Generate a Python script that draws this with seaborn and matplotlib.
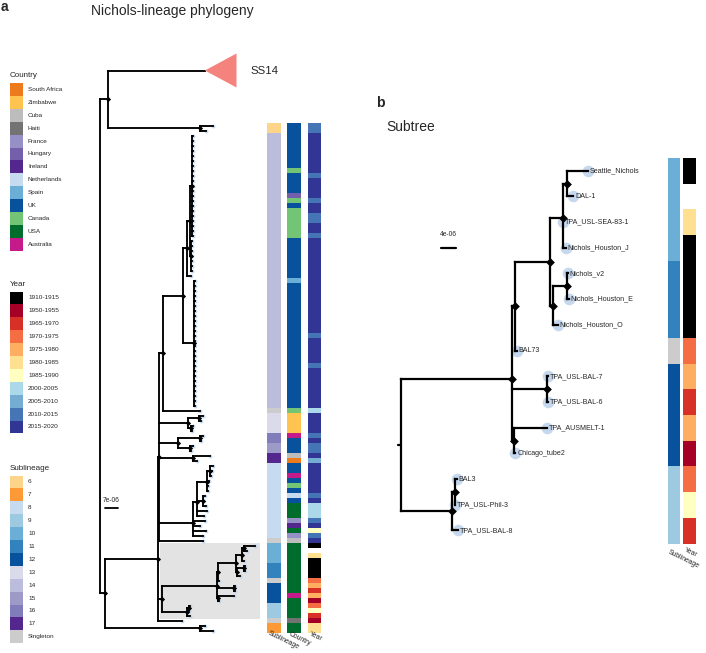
import numpy as np
import pandas as pd
import seaborn as sns
import matplotlib
matplotlib.use('Agg')
import matplotlib.pyplot as plt
from matplotlib.colors import ListedColormap
from matplotlib.collections import LineCollection
from matplotlib.patches import Polygon, Rectangle

sns.set_theme(style='white')
plt.rcParams['font.family'] = ['Liberation Sans', 'DejaVu Sans']

W, H = 706, 653

# colours of the three annotation strips
country_colors = {
    'South Africa': '#ee7a1e', 'Zimbabwe': '#fec44f', 'Cuba': '#bdbdbd', 'Haiti': '#737373',
    'France': '#9590c6', 'Hungary': '#7460aa', 'Ireland': '#54278f', 'Netherlands': '#c6dbef',
    'Spain': '#6baed6', 'UK': '#08519c', 'Canada': '#74c476', 'USA': '#006d2c', 'Australia': '#c51b8a',
}
year_colors = {
    '1910-1915': '#000000', '1950-1955': '#a50026', '1965-1970': '#d73027', '1970-1975': '#f46d43',
    '1975-1980': '#fdae61', '1980-1985': '#fee090', '1985-1990': '#ffffbf', '2000-2005': '#abd9e9',
    '2005-2010': '#74add1', '2010-2015': '#4575b4', '2015-2020': '#313695',
}
sublineage_colors = {
    '6': '#fdd58a', '7': '#fd9a35', '8': '#c6dbef', '9': '#9ecae1', '10': '#6baed6', '11': '#3182bd',
    '12': '#08519c', '13': '#dadaeb', '14': '#bcbddc', '15': '#9e9ac8', '16': '#807dba', '17': '#54278f',
    'Singleton': '#cccccc',
}

# subtree (panel b), branch lengths in 1e-06
sub_newick = ("((((((Seattle_Nichols:5.6,DAL-1:1.6):1.1,TPA_USL-SEA-83-1:0.1,Nichols_Houston_J:0.8):3.5,"
              "((Nichols_v2:0.2,Nichols_Houston_E:0.4):3.8,Nichols_Houston_O:1.3):0.8):9.3,BAL73:0.5):0.8,"
              "(TPA_USL-BAL-7:0.3,TPA_USL-BAL-6:0.3):9.3,(TPA_AUSMELT-1:8.9,Chicago_tube2:0.5):0.4):29.6,"
              "((BAL3:0.5,TPA_USL-Phil-3:0.1):0.8,TPA_USL-BAL-8:1.6):13.6)")
sub_sublineage = ['10', '10', '10', '10', '11', '11', '11', 'Singleton', '12', '12', '12', '12', '9', '9', '9']
sub_year = ['1910-1915', None, '1980-1985', '1910-1915', '1910-1915', '1910-1915', '1910-1915',
            '1970-1975', '1975-1980', '1965-1970', '1975-1980', '1950-1955', '1970-1975', '1985-1990',
            '1965-1970']


def star(n, length=0.5):
    # clade of n (near) identical isolates
    return '(' + ','.join([f't:{length}'] * n) + ')'


# full Nichols-lineage tree (panel a)
K4 = f"({star(21)}:1.1,{star(7)}:0.5)"
K2 = f"({K4}:1.6,t:2.2)"
K1 = f"({K2}:2.2,{star(26)}:5.9)"
K = f"({K1}:10.8,t:19.9)"
N13 = "((t:2.2,t:1.1):5.9,(t:1.1,t:0.5):1.6)"
N16 = "((t:1.6,t:0.5):11.8,(t:1.6,t:0.5):6.5)"
N17 = "(t:9.2,t:2.2)"
C8 = "((((t:1.6,t:1.1,t:0.5):1.6,t:1.1,t:0.5,t:0.5):5.4,(t:1.1,t:0.5,t:1.6):3.2,t:5.4,t:3.8):2.2,t:6.5,t:3.8,t:7.0,t:5.4)"
E1 = f"({K}:2.2,{N13}:15.6,{N16}:10.2,{N17}:18.3,{C8}:18.3,t:23.7)"
E = f"({E1}:0.5,{sub_newick}Subtree:2.2,t:12.9)"
D = f"({E}:28.5,(t:2.7,t:7.0):51.2)"
A = "(SS14:52.2,(t:7.0,t:3.2):49.5)"
tree_newick = f"({A}:4.3,{D}:2.7)"

sublineage_runs_top = [('6', 2), ('14', 55), ('Singleton', 1), ('13', 4), ('16', 2), ('15', 2), ('17', 2),
                       ('8', 15), ('Singleton', 1)]
sublineage_runs_bottom = [('Singleton', 1), ('7', 2)]
country_runs = [('UK', 9), ('Canada', 1), ('UK', 4), ('Hungary', 1), ('Canada', 1), ('UK', 1), ('Canada', 6),
                ('UK', 8), ('Spain', 1), ('UK', 25), ('Canada', 1), ('Zimbabwe', 4), ('Australia', 1), ('UK', 3),
                ('Cuba', 1), ('South Africa', 1), ('UK', 2), ('Australia', 1), ('UK', 1), ('Canada', 1), ('UK', 1),
                ('Netherlands', 1), ('UK', 1), ('USA', 3), ('France', 1), ('Ireland', 1), ('USA', 1), ('France', 1),
                ('Cuba', 1), ('USA', 10), ('Australia', 1), ('USA', 4), ('Haiti', 1), ('USA', 2)]
year_runs_top = [('2010-2015', 2), ('2015-2020', 8), ('2010-2015', 1), ('2015-2020', 4), ('2010-2015', 1),
                 ('2015-2020', 2), ('2010-2015', 2), ('2015-2020', 2), ('2010-2015', 1), ('2015-2020', 19),
                 ('2010-2015', 1), ('2015-2020', 5), ('2010-2015', 1), ('2015-2020', 8), ('2000-2005', 1),
                 ('2015-2020', 4), ('2010-2015', 1), ('2015-2020', 1), ('2010-2015', 2), ('2015-2020', 1),
                 ('2005-2010', 1), ('2015-2020', 6), ('2010-2015', 1), ('2015-2020', 1), ('2000-2005', 3),
                 ('2010-2015', 1), ('2015-2020', 1), ('1985-1990', 1), ('2010-2015', 1), ('2015-2020', 1)]
year_runs_bottom = [('1950-1955', 1), ('1980-1985', 2)]


def expand(runs):
    return [lab for lab, n in runs for _ in range(n)]


sublineage_a = expand(sublineage_runs_top) + sub_sublineage + expand(sublineage_runs_bottom)
country_a = expand(country_runs)
year_a = expand(year_runs_top) + sub_year + expand(year_runs_bottom)


def parse_newick(s):
    pos = 0

    def node():
        nonlocal pos
        n = {'children': [], 'name': '', 'length': 0.0}
        if s[pos] == '(':
            pos += 1
            while True:
                n['children'].append(node())
                if s[pos] == ',':
                    pos += 1
                    continue
                pos += 1
                break
        start = pos
        while pos < len(s) and s[pos] not in ':,();':
            pos += 1
        n['name'] = s[start:pos]
        if pos < len(s) and s[pos] == ':':
            pos += 1
            start = pos
            while pos < len(s) and s[pos] not in ',();':
                pos += 1
            n['length'] = float(s[start:pos])
        return n
    return node()


def place(n, x0, counter, fixed):
    n['x'] = x0 + n['length']
    if n['children']:
        for c in n['children']:
            place(c, n['x'], counter, fixed)
        n['y'] = np.mean([c['y'] for c in n['children']])
    elif n['name'] in fixed:
        n['y'] = fixed[n['name']]
    else:
        n['y'] = counter[0]
        counter[0] += 1


def find(n, name):
    if n['name'] == name:
        return n
    for c in n['children']:
        r = find(c, name)
        if r is not None:
            return r
    return None


def leaves(n):
    if not n['children']:
        return [n]
    return [l for c in n['children'] for l in leaves(c)]


def draw_tree(ax, root, lw, node_s, tip_s, skip=()):
    segs, nodes = [], []

    def walk(n, is_root):
        if n['children']:
            ys = [c['y'] for c in n['children']]
            segs.append([(n['x'], min(ys)), (n['x'], max(ys))])
            for c in n['children']:
                segs.append([(n['x'], c['y']), (c['x'], c['y'])])
                walk(c, False)
            if not is_root:
                nodes.append((n['x'], n['y']))
    walk(root, True)
    ax.add_collection(LineCollection(segs, colors='black', linewidths=lw, capstyle='projecting', zorder=2))
    tips = [l for l in leaves(root) if l['name'] not in skip]
    ax.scatter([t['x'] for t in tips], [t['y'] for t in tips], s=tip_s, color='#bcd2ea', alpha=0.85,
               linewidths=0, zorder=1)
    nx, ny = zip(*nodes)
    ax.scatter(nx, ny, s=node_s, marker='D', color='black', linewidths=0, zorder=3)


def px_axes(fig, x0, y0, x1, y1):
    return fig.add_axes([x0 / W, 1 - y1 / H, (x1 - x0) / W, (y1 - y0) / H])


def strip(ax, labels, colors):
    order = list(colors)
    codes = [order.index(l) if l is not None else np.nan for l in labels]
    sns.heatmap(pd.DataFrame({'v': codes}), ax=ax, cmap=ListedColormap([colors[o] for o in order]),
                vmin=-0.5, vmax=len(order) - 0.5, cbar=False, xticklabels=False, yticklabels=False)
    ax.set_xlabel('')
    ax.set_ylabel('')


def col_label(x, y, text):
    fig.text(x / W, 1 - y / H, text, fontsize=4.9, rotation=-26, rotation_mode='anchor', ha='left', va='top')


fig = plt.figure(figsize=(W / 100, H / 100), dpi=100)

# ---------- panel a ----------
A_ROOT, A_SCALE, A_ROW0, A_ROWH = 100, 1.857, 125.5, 5.0
ax_a = px_axes(fig, 90, 40, 340, 645)
ax_a.set_xlim((90 - A_ROOT) / A_SCALE, (340 - A_ROOT) / A_SCALE)
ax_a.set_ylim((645 - A_ROW0) / A_ROWH, (40 - A_ROW0) / A_ROWH)
ax_a.axis('off')
ax_a.patch.set_alpha(0)

tree_a = parse_newick(tree_newick)
place(tree_a, 0.0, [0], {'SS14': -11})
draw_tree(ax_a, tree_a, lw=1.35, node_s=7, tip_s=8, skip=('SS14',))

sub_in_a = find(tree_a, 'Subtree')
sub_leaves = leaves(sub_in_a)
ys = [l['y'] for l in sub_leaves]
xs = [l['x'] for l in sub_leaves]
ax_a.add_patch(Rectangle((sub_in_a['x'] - 1.0, min(ys) - 0.6), max(xs) + 3.0 - sub_in_a['x'] + 1.0,
                         max(ys) - min(ys) + 1.2, color='#e3e3e3', zorder=0, linewidth=0))

ss = find(tree_a, 'SS14')
ax_a.add_patch(Polygon([(ss['x'], ss['y']), (ss['x'] + 17, ss['y'] - 3.4), (ss['x'] + 17, ss['y'] + 3.4)],
                       closed=True, color='#f4837d', linewidth=0, zorder=2))
ax_a.text(80.8, ss['y'], 'SS14', fontsize=8.2, va='center', ha='left')

ax_a.plot([2.7, 9.7], [76.5, 76.5], color='black', lw=1.3)
ax_a.text(6.2, 75.1, '7e-06', fontsize=4.8, ha='center', va='center')

strip(px_axes(fig, 267.3, 123, 280.7, 633), sublineage_a, sublineage_colors)
strip(px_axes(fig, 287.3, 123, 301, 633), country_a, country_colors)
strip(px_axes(fig, 307.7, 123, 321, 633), year_a, year_colors)
col_label(270, 630, 'Sublineage')
col_label(291, 631, 'Country')
col_label(311, 631, 'Year')

# ---------- panel b ----------
B_ROOT, B_SCALE, B_ROW0, B_ROWH = 401, 3.75, 170.7, 25.7
ax_b = px_axes(fig, 392, 140, 665, 560)
ax_b.set_xlim((392 - B_ROOT) / B_SCALE, (665 - B_ROOT) / B_SCALE)
ax_b.set_ylim((560 - B_ROW0) / B_ROWH, (140 - B_ROW0) / B_ROWH)
ax_b.axis('off')
ax_b.patch.set_alpha(0)

tree_b = parse_newick(sub_newick)
place(tree_b, 0.0, [0], {})
draw_tree(ax_b, tree_b, lw=1.6, node_s=20, tip_s=70)
ax_b.plot([-0.8, 0], [tree_b['y'], tree_b['y']], color='black', lw=1.6)
for l in leaves(tree_b):
    ax_b.text(l['x'] + 0.5, l['y'], l['name'], fontsize=5.1, va='center', ha='left', zorder=4)

ax_b.plot([10.7, 14.7], [3.0, 3.0], color='black', lw=1.6)
ax_b.text(12.7, 2.5, '4e-06', fontsize=4.8, ha='center', va='center')

strip(px_axes(fig, 668.3, 158, 680, 543.5), sub_sublineage, sublineage_colors)
strip(px_axes(fig, 683.3, 158, 696, 543.5), sub_year, year_colors)
col_label(670, 549, 'Sublineage')
col_label(686, 547, 'Year')

# ---------- legends ----------
ax_l = px_axes(fig, 0, 0, 95, 653)
ax_l.set_xlim(0, 95)
ax_l.set_ylim(653, 0)
ax_l.axis('off')
ax_l.patch.set_alpha(0)


def draw_legend(title, colors, title_y):
    ax_l.text(10, title_y, title, fontsize=5.8, va='center', ha='left')
    for i, (lab, col) in enumerate(colors.items()):
        y0 = title_y + 7.5 + i * 12.9
        ax_l.add_patch(Rectangle((10, y0), 13, 12.9, color=col, linewidth=0))
        ax_l.text(28, y0 + 6.45, lab, fontsize=4.6, va='center', ha='left')


draw_legend('Country', country_colors, 75.5)
draw_legend('Year', year_colors, 284)
draw_legend('Sublineage', sublineage_colors, 468)

# ---------- titles ----------
fig.text(1 / W, 1 - 7 / H, 'a', fontsize=10, fontweight='bold', va='center', ha='left')
fig.text(172 / W, 1 - 11 / H, 'Nichols-lineage phylogeny', fontsize=10, va='center', ha='center')
fig.text(376 / W, 1 - 103 / H, 'b', fontsize=10, fontweight='bold', va='center', ha='left')
fig.text(386 / W, 1 - 127 / H, 'Subtree', fontsize=10, va='center', ha='left')

fig.savefig('out.png', dpi=100)
